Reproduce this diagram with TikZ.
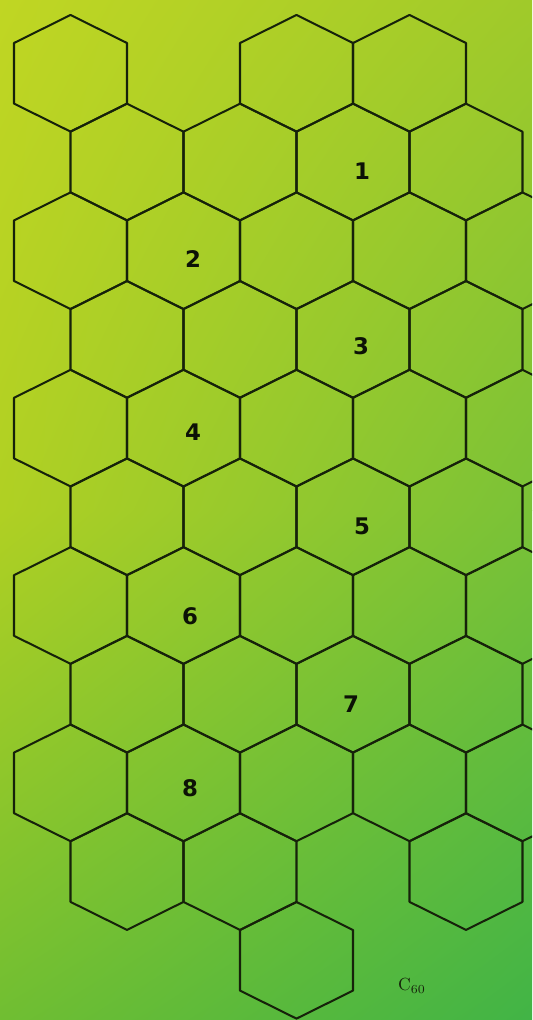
\documentclass[tikz,border=0pt]{standalone}
\usepackage{fontspec}
\newfontfamily\numfont{DejaVu Sans}
\usepackage{tikz}
\usetikzlibrary{shadings}

\definecolor{bgTL}{RGB}{192,214,35}
\definecolor{bgTR}{RGB}{160,202,42}
\definecolor{bgML}{RGB}{176,208,35}
\definecolor{bgMR}{RGB}{122,194,55}
\definecolor{bgBL}{RGB}{112,190,50}
\definecolor{bgBR}{RGB}{65,180,70}
\definecolor{hexdark}{RGB}{22,34,10}
\definecolor{textdark}{RGB}{12,18,6}

\begin{document}
\begin{tikzpicture}[x=0.02cm, y=-0.02cm,
  hexline/.style={draw=hexdark, line width=1.15pt, line join=round},
  hexa/.pic={\path[hexline] (0,-58.3) -- (56.5,-30.3) -- (56.5,30.3) -- (0,58.3) -- (-56.5,30.3) -- (-56.5,-30.3) -- cycle;},
  num/.style={font=\numfont\bfseries\fontsize{13}{13}\selectfont, text=textdark, inner sep=0pt},
  tag/.style={font=\fontsize{10}{10}\selectfont, text=hexdark, inner sep=0pt}]
  \clip (0,0) rectangle (532,1020);
  % background
  \shade[upper left=bgTL, upper right=bgTR, lower left=bgML, lower right=bgMR] (0,0) rectangle (532,510);
  \shade[upper left=bgML, upper right=bgMR, lower left=bgBL, lower right=bgBR] (0,510) rectangle (532,1020);
  % row 0
  \pic (h0-0) at (70.5,73.3) {hexa};
  \pic (h0-2) at (296.5,73.3) {hexa};
  \pic (h0-3) at (409.5,73.3) {hexa};
  % row 1
  \pic (h1-0) at (127,162) {hexa};
  \pic (h1-1) at (240,162) {hexa};
  \pic (h1-2) at (353,162) {hexa};
  \pic (h1-3) at (466,162) {hexa};
  % row 2
  \pic (h2-0) at (70.5,250.7) {hexa};
  \pic (h2-1) at (183.5,250.7) {hexa};
  \pic (h2-2) at (296.5,250.7) {hexa};
  \pic (h2-3) at (409.5,250.7) {hexa};
  \pic (h2-4) at (522.5,250.7) {hexa};
  % row 3
  \pic (h3-0) at (127,339.4) {hexa};
  \pic (h3-1) at (240,339.4) {hexa};
  \pic (h3-2) at (353,339.4) {hexa};
  \pic (h3-3) at (466,339.4) {hexa};
  % row 4
  \pic (h4-0) at (70.5,428.1) {hexa};
  \pic (h4-1) at (183.5,428.1) {hexa};
  \pic (h4-2) at (296.5,428.1) {hexa};
  \pic (h4-3) at (409.5,428.1) {hexa};
  \pic (h4-4) at (522.5,428.1) {hexa};
  % row 5
  \pic (h5-0) at (127,516.8) {hexa};
  \pic (h5-1) at (240,516.8) {hexa};
  \pic (h5-2) at (353,516.8) {hexa};
  \pic (h5-3) at (466,516.8) {hexa};
  % row 6
  \pic (h6-0) at (70.5,605.5) {hexa};
  \pic (h6-1) at (183.5,605.5) {hexa};
  \pic (h6-2) at (296.5,605.5) {hexa};
  \pic (h6-3) at (409.5,605.5) {hexa};
  \pic (h6-4) at (522.5,605.5) {hexa};
  % row 7
  \pic (h7-0) at (127,694.2) {hexa};
  \pic (h7-1) at (240,694.2) {hexa};
  \pic (h7-2) at (353,694.2) {hexa};
  \pic (h7-3) at (466,694.2) {hexa};
  % row 8
  \pic (h8-0) at (70.5,782.9) {hexa};
  \pic (h8-1) at (183.5,782.9) {hexa};
  \pic (h8-2) at (296.5,782.9) {hexa};
  \pic (h8-3) at (409.5,782.9) {hexa};
  \pic (h8-4) at (522.5,782.9) {hexa};
  % row 9
  \pic (h9-0) at (127,871.6) {hexa};
  \pic (h9-1) at (240,871.6) {hexa};
  \pic (h9-3) at (466,871.6) {hexa};
  % row 10
  \pic (h10-2) at (296.5,960.3) {hexa};
  % numbers
  \node[num] (n1) at (362,171) {1};
  \node[num] (n2) at (193,259) {2};
  \node[num] (n3) at (361,346) {3};
  \node[num] (n4) at (193,432) {4};
  \node[num] (n5) at (362,526) {5};
  \node[num] (n6) at (190,616) {6};
  \node[num] (n7) at (351,704) {7};
  \node[num] (n8) at (190,788) {8};
  \node[tag] (c60) at (412,986) {C\textsubscript{60}};
\end{tikzpicture}
\end{document}
